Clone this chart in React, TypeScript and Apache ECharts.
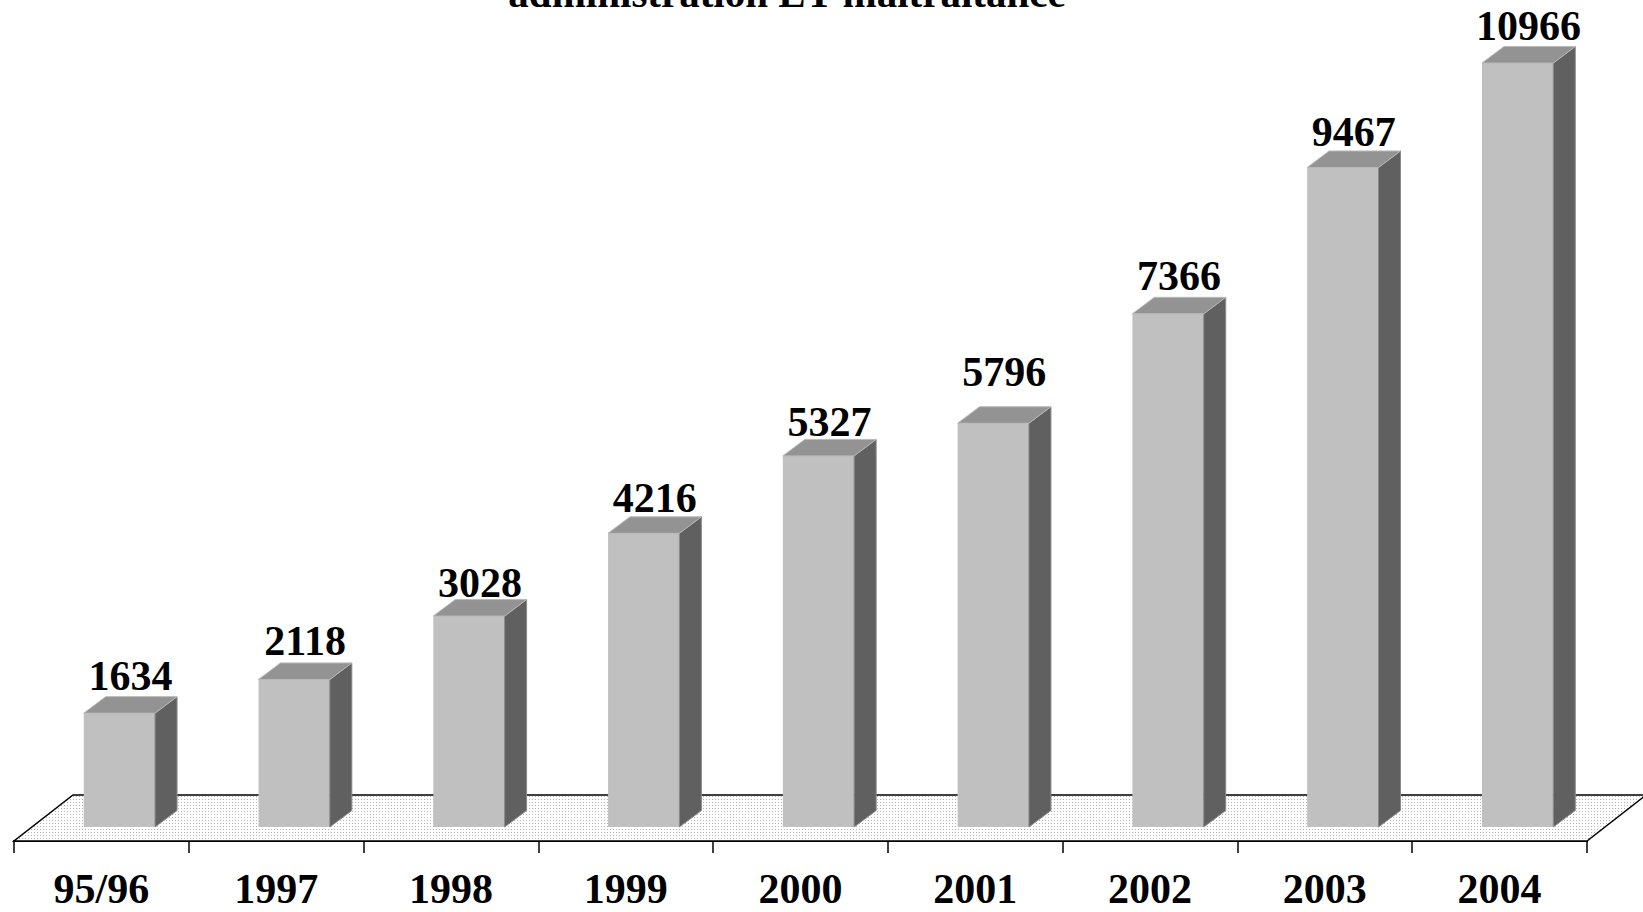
import React, { useEffect, useRef } from "react";
import * as echarts from "echarts";

const categories = ["95/96", "1997", "1998", "1999", "2000", "2001", "2002", "2003", "2004"];
const values = [1634, 2118, 3028, 4216, 5327, 5796, 7366, 9467, 10966];
const titleText = "administration ET maltraitance";
const yMin = 0;
const yMax = 12000;
// extra upward nudge (px) of each value label, as placed in the reference
const labelLift = [2, 3, -2, 0, -2, 16, 2, 0, 2];

const FONT = "'Liberation Serif', 'Times New Roman', Times, serif";

export default function App() {
  const ref = useRef<HTMLDivElement>(null);

  useEffect(() => {
    if (!ref.current) return;
    const chart = echarts.init(ref.current, undefined, { renderer: "svg" });

    const cv = document.createElement("canvas");
    cv.width = 3;
    cv.height = 3;
    const ctx = cv.getContext("2d");
    if (ctx) {
      ctx.fillStyle = "#ffffff";
      ctx.fillRect(0, 0, 3, 3);
      ctx.fillStyle = "#b4b4b4";
      ctx.fillRect(1, 1, 1, 1);
    }
    const floorFill: any = { image: cv, repeat: "repeat", imageWidth: 3, imageHeight: 3 };

    const depthX = 22;
    const depthY = -16.5;
    const floorDX = 59;
    const floorDY = -46;
    const offX = 18;
    const offY = -14;

    const option: any = {
      animation: false,
      backgroundColor: "#ffffff",
      grid: { left: 14, right: 56, top: 5, bottom: 71, containLabel: false },
      xAxis: {
        type: "category",
        data: categories,
        boundaryGap: true,
        axisLine: { show: true, lineStyle: { color: "#000", width: 2 } },
        axisTick: { show: true, length: 12, interval: 0, lineStyle: { color: "#000", width: 1.5 } },
        axisLabel: {
          interval: 0,
          margin: 27,
          color: "#000",
          fontSize: 42,
          fontWeight: "bold",
          fontFamily: FONT,
        },
        splitLine: { show: false },
      },
      yAxis: {
        type: "value",
        min: yMin,
        max: yMax,
        show: false,
        splitLine: { show: false },
      },
      graphic: [
        {
          type: "text",
          x: 787,
          y: -7,
          z: 10,
          style: {
            text: titleText,
            fill: "#000",
            fontSize: 41,
            fontWeight: "bold",
            fontFamily: FONT,
            align: "center",
            verticalAlign: "middle",
          },
        },
      ],
      series: [
        {
          type: "custom",
          name: "floor",
          z: 1,
          silent: true,
          data: [[0, 0]],
          encode: { x: 0, y: 1 },
          renderItem: (params: any, api: any) => {
            const band = api.size([1, 0])[0];
            const c0 = api.coord([0, 0]);
            const cN = api.coord([categories.length - 1, 0]);
            const left = c0[0] - band / 2;
            const right = cN[0] + band / 2;
            const y = c0[1];
            return {
              type: "polygon",
              shape: {
                points: [
                  [left, y],
                  [right, y],
                  [right + floorDX, y + floorDY],
                  [left + floorDX, y + floorDY],
                ],
              },
              style: { fill: floorFill, stroke: "#000", lineWidth: 1.5 },
            };
          },
        },
        {
          type: "custom",
          name: "values",
          z: 3,
          data: values.map((v, i) => [i, v]),
          encode: { x: 0, y: 1 },
          renderItem: (params: any, api: any) => {
            const cat = api.value(0);
            const v = api.value(1);
            const base = api.coord([cat, 0]);
            const top = api.coord([cat, v]);
            const band = api.size([1, 0])[0];
            const w = band * 0.408;
            const x0 = base[0] - w / 2 + offX;
            const x1 = x0 + w;
            const yb = base[1] + offY;
            const yt = top[1] + offY;
            const lift = labelLift[params.dataIndex] || 0;
            return {
              type: "group",
              children: [
                {
                  type: "polygon",
                  shape: { points: [[x0, yt], [x1, yt], [x1, yb], [x0, yb]] },
                  style: { fill: "#c0c0c0" },
                },
                {
                  type: "polygon",
                  shape: {
                    points: [
                      [x1, yt],
                      [x1 + depthX, yt + depthY],
                      [x1 + depthX, yb + depthY],
                      [x1, yb],
                    ],
                  },
                  style: { fill: "#606060", stroke: "#8a8a8a", lineWidth: 1 },
                },
                {
                  type: "polygon",
                  shape: {
                    points: [
                      [x0, yt],
                      [x0 + depthX, yt + depthY],
                      [x1 + depthX, yt + depthY],
                      [x1, yt],
                    ],
                  },
                  style: { fill: "#939393", stroke: "#b8b8b8", lineWidth: 1 },
                },
                {
                  type: "text",
                  x: (x0 + x1 + depthX) / 2,
                  y: yt + depthY - 19 - lift,
                  style: {
                    text: String(v),
                    fill: "#000",
                    fontSize: 42,
                    fontWeight: "bold",
                    fontFamily: FONT,
                    align: "center",
                    verticalAlign: "middle",
                  },
                },
              ],
            };
          },
        },
      ],
    };

    chart.setOption(option);
    return () => {
      chart.dispose();
    };
  }, []);

  return (
    <div
      ref={ref}
      style={{ position: "fixed", left: 0, top: 0, width: 1643, height: 912, background: "#fff" }}
    />
  );
}
